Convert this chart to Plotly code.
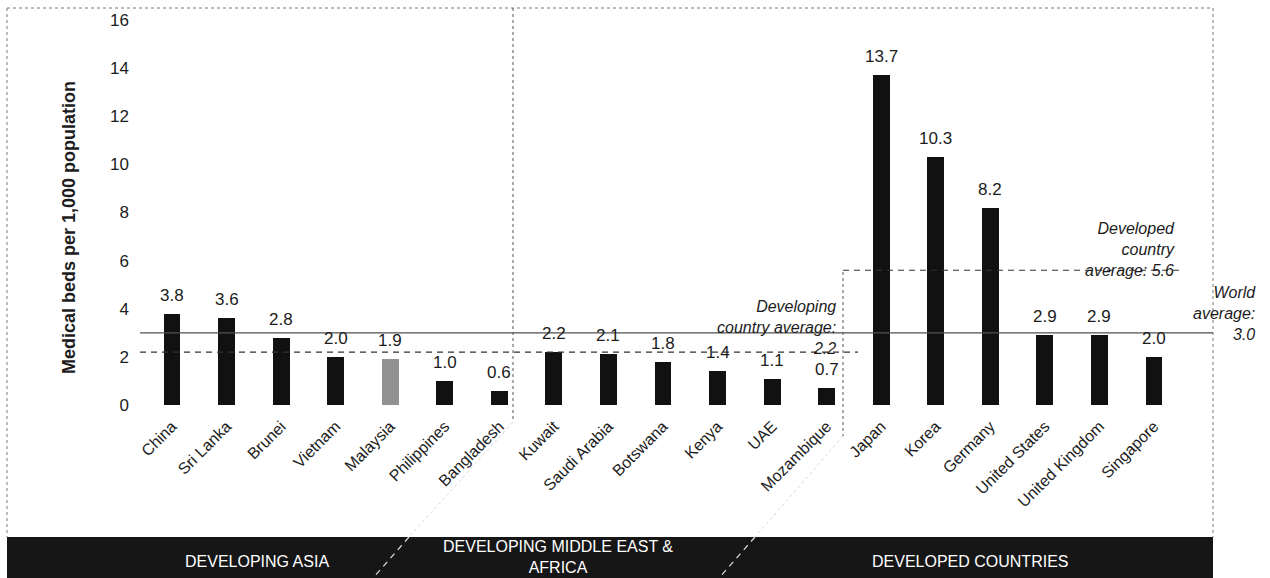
import plotly.graph_objects as go

# Hospital bed density by country, grouped by region
countries = ["China", "Sri Lanka", "Brunei", "Vietnam", "Malaysia", "Philippines", "Bangladesh",
             "Kuwait", "Saudi Arabia", "Botswana", "Kenya", "UAE", "Mozambique",
             "Japan", "Korea", "Germany", "United States", "United Kingdom", "Singapore"]
beds = [3.8, 3.6, 2.8, 2.0, 1.9, 1.0, 0.6,
        2.2, 2.1, 1.8, 1.4, 1.1, 0.7,
        13.7, 10.3, 8.2, 2.9, 2.9, 2.0]
highlight = "Malaysia"

world_avg = 3.0
developing_avg = 2.2
developed_avg = 5.6

regions = ["DEVELOPING ASIA", "DEVELOPING MIDDLE EAST &<br>AFRICA", "DEVELOPED COUNTRIES"]

y_ticks = [0, 2, 4, 6, 8, 10, 12, 14, 16]

# page geometry (pixels)
W_PAGE, H_PAGE = 1270, 578
L, R, T, B = 140, 57, 20, 173
PW = W_PAGE - L - R
PH = H_PAGE - T - B


def px(p):
    return (p - L) / PW


def py(p):
    return (H_PAGE - B - p) / PH


FONT = "Liberation Sans, Arial, sans-serif"
INK = "#1c1c1c"

xs = list(range(len(countries)))
colors = ["#929292" if c == highlight else "#111111" for c in countries]

fig = go.Figure()
fig.add_trace(go.Bar(x=xs, y=beds, width=0.31, marker=dict(color=colors, line=dict(width=0)),
                     hoverinfo="skip"))

annotations = []
for x, v in zip(xs, beds):
    annotations.append(dict(x=x, y=v, xref="x", yref="y", text=f"{v:.1f}", showarrow=False,
                            yanchor="bottom", yshift=7, font=dict(family=FONT, size=17, color=INK)))

# axis title
annotations.append(dict(x=px(57), y=py(228), xref="paper", yref="paper",
                        text="<b>Medical beds per 1,000 population</b>", textangle=-90,
                        showarrow=False, font=dict(family=FONT, size=18, color=INK)))

# average labels
annotations.append(dict(x=px(1177), y=py(249), xref="paper", yref="paper", xanchor="right",
                        yanchor="middle", align="right",
                        text=f"<i>Developed<br>country<br>average: {developed_avg:.1f}</i>",
                        showarrow=False, font=dict(family=FONT, size=16, color=INK)))
annotations.append(dict(x=px(1258), y=py(313), xref="paper", yref="paper", xanchor="right",
                        yanchor="middle", align="right",
                        text=f"<i>World<br>average:<br>{world_avg:.1f}</i>",
                        showarrow=False, font=dict(family=FONT, size=16, color=INK)))
annotations.append(dict(x=px(838), y=py(327), xref="paper", yref="paper", xanchor="right",
                        yanchor="middle", align="right",
                        text=f"<i>Developing<br>country average:<br>{developing_avg:.1f}</i>",
                        showarrow=False, font=dict(family=FONT, size=16, color=INK)))

# region band labels
for txt, cx, cy in zip(regions, [257, 558, 970], [561, 557, 561]):
    annotations.append(dict(x=px(cx), y=py(cy), xref="paper", yref="paper", text=txt,
                            showarrow=False, xanchor="center", yanchor="middle",
                            font=dict(family=FONT, size=16, color="white")))

shapes = []
# outer frame
frame = dict(type="line", xref="paper", yref="paper", line=dict(color="#7a7a7a", width=1, dash="dot"))
shapes.append({**frame, "x0": px(7), "x1": px(1213), "y0": py(8), "y1": py(8)})
shapes.append({**frame, "x0": px(7), "x1": px(7), "y0": py(8), "y1": py(537)})
shapes.append({**frame, "x0": px(1213), "x1": px(1213), "y0": py(8), "y1": py(537)})

# region band
shapes.append(dict(type="rect", xref="paper", yref="paper", x0=px(7), x1=px(1213),
                   y0=py(537), y1=py(578), fillcolor="#161616", line=dict(width=0), layer="above"))

# region dividers
div = dict(type="line", xref="paper", yref="paper", line=dict(color="#555555", width=1, dash="3px,3px"))
shapes.append({**div, "x0": px(513), "x1": px(513), "y0": py(8), "y1": py(422)})
shapes.append({**div, "x0": px(843), "x1": px(843), "y0": py(272), "y1": py(436)})
faint = dict(type="line", xref="paper", yref="paper", line=dict(color="#d8d8d8", width=1, dash="3px,3px"))
shapes.append({**faint, "x0": px(513), "x1": px(409), "y0": py(422), "y1": py(537)})
shapes.append({**faint, "x0": px(843), "x1": px(755), "y0": py(436), "y1": py(537)})
white = dict(type="line", xref="paper", yref="paper", line=dict(color="#dddddd", width=1.2, dash="6px,5px"),
             layer="above")
shapes.append({**white, "x0": px(409), "x1": px(373), "y0": py(537), "y1": py(578)})
shapes.append({**white, "x0": px(755), "x1": px(719), "y0": py(537), "y1": py(578)})

# average lines
shapes.append(dict(type="line", xref="paper", yref="y", x0=0, x1=1, y0=world_avg, y1=world_avg,
                   line=dict(color="#505050", width=1.3), layer="above"))
shapes.append(dict(type="line", xref="paper", yref="y", x0=0, x1=px(858), y0=developing_avg,
                   y1=developing_avg, line=dict(color="#333333", width=1.2, dash="6px,5px"), layer="above"))
shapes.append(dict(type="line", xref="paper", yref="y", x0=px(843), x1=px(1184), y0=developed_avg,
                   y1=developed_avg, line=dict(color="#333333", width=1.2, dash="6px,5px"), layer="above"))

x_lo = -(172 - L) / 54.56
x_hi = 18 + (L + PW - 1154) / 54.56

fig.update_layout(
    width=W_PAGE, height=H_PAGE,
    margin=dict(l=L, r=R, t=T, b=B, autoexpand=False),
    paper_bgcolor="white", plot_bgcolor="white",
    showlegend=False, bargap=0,
    font=dict(family=FONT, color=INK),
    xaxis=dict(range=[x_lo, x_hi], tickmode="array", tickvals=xs, ticktext=countries,
               tickangle=-45, showgrid=False, zeroline=False, showline=False, ticks="",
               tickfont=dict(family=FONT, size=16, color=INK), ticklabelstandoff=8),
    yaxis=dict(range=[0, 16], tickmode="array", tickvals=y_ticks, showgrid=False, zeroline=False,
               showline=False, ticks="", tickfont=dict(family=FONT, size=17, color=INK),
               ticklabelstandoff=10),
    annotations=annotations,
    shapes=shapes,
)

fig.write_html("out.html")
